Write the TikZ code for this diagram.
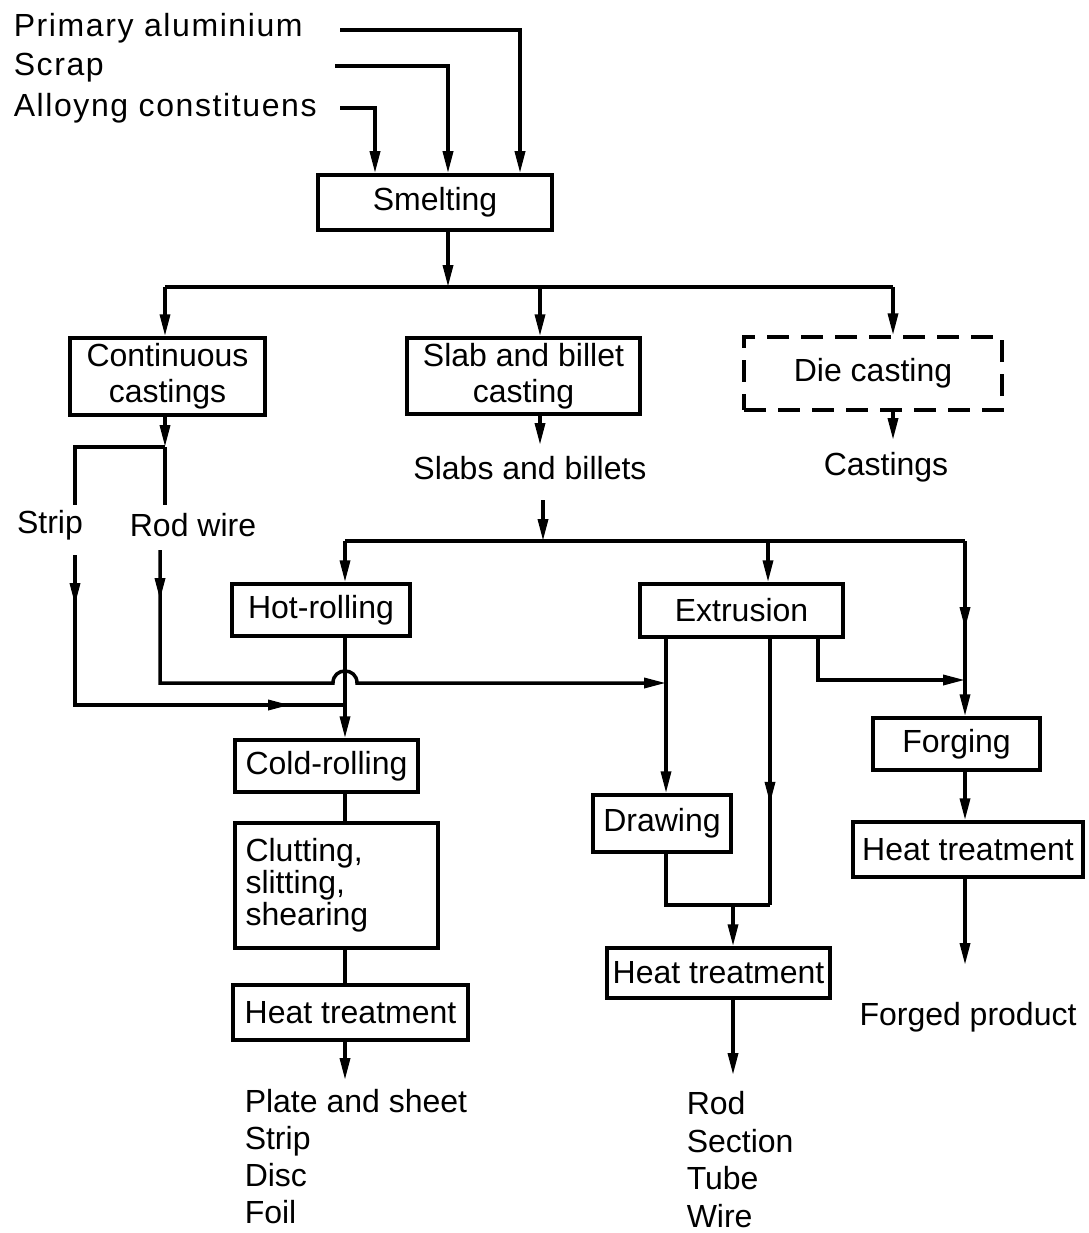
\documentclass[tikz,border=0pt]{standalone}
\usepackage{fontspec}
\setmainfont{Liberation Sans}
\newfontfamily\widefont[LetterSpace=5]{Liberation Sans}
\usetikzlibrary{arrows.meta,decorations.markings}
\begin{document}
\begin{tikzpicture}[x=1pt,y=-1pt, line width=3.5pt, line join=miter,
  every node/.style={font=\fontsize{32}{36}\selectfont, inner sep=0pt},
  box/.style={draw, line width=3.5pt, align=center},
  dbox/.style={box, dash pattern=on 22pt off 12pt},
  toplbl/.style={anchor=west, font=\widefont\fontsize{32}{36}\selectfont},
  tip/.style={-{Triangle[length=22pt,width=10pt]}},
  arrat/.style={postaction={decorate, decoration={markings, mark=at position #1 with {\arrow{Triangle[length=22pt,width=10pt]}}}}}
]
\useasboundingbox (0,0) rectangle (1088,1233);

% input labels
\node[toplbl] (prim) at (12,28) {Primary aluminium};
\node[toplbl] (scrap) at (12,68) {Scrap};
\node[toplbl] (alloy) at (12,108) {Alloyng constituens};
\coordinate (pa) at (340,30);
\coordinate (sa) at (335,66);
\coordinate (aa) at (340,108);

% boxes
\node[box, minimum width=234pt, minimum height=55pt] (smelt) at (435,202.5) {Smelting};
\node[box, minimum width=195pt, minimum height=77pt] (cont) at (167.5,376.5) {Continuous\\castings};
\node[box, minimum width=233pt, minimum height=76pt] (slab) at (523.5,376) {Slab and billet\\casting};
\node[dbox, minimum width=258pt, minimum height=73pt] (die) at (873,373.5) {Die casting};
\node[box, minimum width=178pt, minimum height=52pt] (hot) at (321,610) {Hot-rolling};
\node[box, minimum width=203pt, minimum height=53pt] (ext) at (741.5,610.5) {Extrusion};
\node[box, minimum width=183pt, minimum height=52pt] (cold) at (326.5,766) {Cold-rolling};
\node[box, minimum width=203pt, minimum height=125pt, text width=182pt, align=left,
      font=\fontsize{32}{32}\selectfont] (cut) at (336.5,885.5) {Clutting,\\slitting,\\shearing};
\node[box, minimum width=235pt, minimum height=55pt] (ht1) at (350.5,1012.5) {Heat treatment};
\node[box, minimum width=138pt, minimum height=57pt] (drw) at (662,823.5) {Drawing};
\node[box, minimum width=223pt, minimum height=50pt] (ht2) at (718.5,973) {Heat treatment};
\node[box, minimum width=167pt, minimum height=52pt] (forg) at (956.5,744) {Forging};
\node[box, minimum width=230pt, minimum height=55pt] (ht3) at (968,849.5) {Heat treatment};

% text labels
\node (striplbl) at (50,525) {Strip};
\node (rodlbl) at (193,525) {Rod wire};
\node (slabs) at (530,468) {Slabs and billets};
\node (castings) at (886,467) {Castings};
\node (forged) at (968,1017) {Forged product};
\node[anchor=north west, align=left, font=\fontsize{32}{37}\selectfont] (prod1) at (243,1088) {Plate and sheet\\Strip\\Disc\\Foil};
\node[anchor=north west, align=left, font=\fontsize{32}{37.5}\selectfont] (prod2) at (685,1090) {Rod\\Section\\Tube\\Wire};

% inputs to smelting
\draw[tip] (pa) -| ([xshift=85pt]smelt.north);
\draw[tip] (sa) -| ([xshift=13pt]smelt.north);
\draw[tip] (aa) -| ([xshift=-60pt]smelt.north);

% smelting distribution
\coordinate (j1) at (448,287);
\coordinate (j1L) at (165,287);
\coordinate (j1M) at (540,287);
\coordinate (j1R) at (893,287);
\draw[tip] (j1 |- smelt.south) -- (j1);
\draw (j1L) -- (j1R);
\draw[tip] (j1L) -- (j1L |- cont.north);
\draw[tip] (j1M) -- (j1M |- slab.north);
\draw[tip] (j1R) -- (j1R |- die.north);

% continuous castings
\coordinate (c1) at (165,447);
\coordinate (stripEnd) at (75,505);
\coordinate (rodEnd) at (165,505);
\draw[tip] (c1 |- cont.south) -- (c1);
\draw (c1) -| (stripEnd);
\draw (c1) -- (rodEnd);

% strip path
\coordinate (s0) at (75,555);
\coordinate (sj) at (345,705);
\draw[arrat=50pt, arrat=365pt] (s0) |- (sj);

% rod wire path with hop
\coordinate (r0) at (160,550);
\coordinate (r1) at (160,683);
\coordinate (hopA) at (333,683);
\coordinate (hopB) at (357,683);
\coordinate (rj) at (666,683);
\draw[tip, arrat=50pt] (r0) -- (r1) -- (hopA) .. controls (333,667) and (357,667) .. (hopB) -- (rj);

% slab path
\coordinate (sl1) at (540,445);
\coordinate (sl2) at (543,500);
\coordinate (j2) at (543,541);
\coordinate (j2L) at (345,541);
\coordinate (j2E) at (768,541);
\coordinate (j2R) at (965,541);
\draw[tip] (sl1 |- slab.south) -- (sl1);
\draw[tip] (sl2) -- (j2);
\draw (j2L) -- (j2R);
\draw[tip] (j2L) -- (j2L |- hot.north);
\draw[tip] (j2E) -- (j2E |- ext.north);
\draw[tip, arrat=88pt] (j2R) -- (j2R |- forg.north);

% rolling line
\draw[tip] (j2L |- hot.south) -- (j2L |- cold.north);
\draw (j2L |- cold.south) -- (j2L |- cut.north);
\draw (j2L |- cut.south) -- (j2L |- ht1.north);
\coordinate (o1) at (345,1080);
\draw[tip] (j2L |- ht1.south) -- (o1);

% extrusion line
\coordinate (m1) at (770,905);
\coordinate (e2) at (818,680);
\coordinate (fj) at (965,680);
\coordinate (d1) at (666,905);
\coordinate (d2) at (733,905);
\coordinate (o2) at (733,1075);
\draw[tip] (rj |- ext.south) -- (rj |- drw.north);
\draw[arrat=165pt] (m1 |- ext.south) -- (m1);
\draw[tip] (e2 |- ext.south) |- (fj);
\draw (d1 |- drw.south) -- (d1) -- (m1);
\draw[tip] (d2) -- (d2 |- ht2.north);
\draw[tip] (d2 |- ht2.south) -- (o2);

% forging line
\coordinate (o3) at (965,965);
\draw[tip] (j2R |- forg.south) -- (j2R |- ht3.north);
\draw[tip] (j2R |- ht3.south) -- (o3);

% die casting
\coordinate (dc) at (893,440);
\draw[tip] (dc |- die.south) -- (dc);
\end{tikzpicture}
\end{document}
